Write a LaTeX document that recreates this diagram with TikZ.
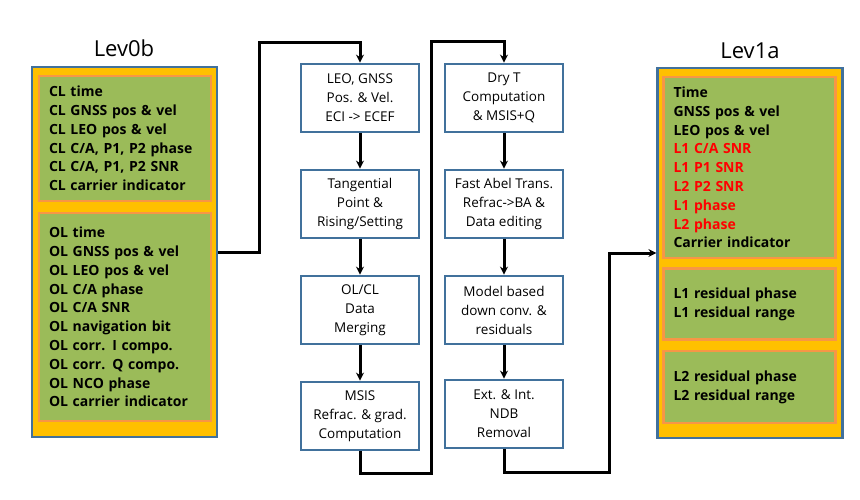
\documentclass[tikz,border=0pt]{standalone}
\usepackage{fontspec}
\setmainfont{Open Sans}
\usetikzlibrary{arrows.meta}

\definecolor{boxblue}{HTML}{41719C}
\definecolor{outerfill}{HTML}{FFC000}
\definecolor{innerfill}{HTML}{9BBB59}
\definecolor{innerline}{HTML}{F79646}

\tikzset{
	outer/.style={draw=boxblue, line width=2.2pt, fill=outerfill, minimum width=185pt, minimum height=370pt},
	inner/.style={draw=innerline, line width=2.5pt, fill=innerfill, minimum width=172pt, text width=152pt, inner xsep=10pt, align=left, font=\fontsize{14}{18.8}\selectfont\bfseries},
	stepbox/.style={draw=boxblue, line width=2.8pt, fill=white, minimum width=118pt, minimum height=68pt, align=center, font=\fontsize{13.5}{19}\selectfont},
	title/.style={font=\fontsize{22}{26}\selectfont},
	arr/.style={line width=3pt, -{Stealth[length=8pt,width=8pt]}},
}

\begin{document}
\begin{tikzpicture}[x=1pt, y=-1pt]
		\useasboundingbox (0, 0) rectangle (860, 499);

		% Lev0b
		\node [title] (lev0b title) at (124, 48) {Lev0b};
		\node [outer] (lev0b) at (124.5, 252) {};
		\node [inner, minimum height=125pt] (cl) at (125, 138.5) {CL time\\CL GNSS pos \& vel\\CL LEO pos \& vel\\CL C/A, P1, P2 phase\\CL C/A, P1, P2 SNR\\CL carrier indicator};
		\node [inner, minimum height=208pt] (ol) at (125, 317) {OL time\\OL GNSS pos \& vel\\OL LEO pos \& vel\\OL C/A phase\\OL C/A SNR\\OL navigation bit\\OL corr. I compo.\\OL corr. Q compo.\\OL NCO phase\\OL carrier indicator};

		% processing steps
		\foreach \n/\y/\t in {m1/98/{LEO, GNSS\\Pos. \& Vel.\\ECI -> ECEF}, m2/204/{Tangential\\Point \&\\Rising/Setting}, m3/310/{OL/CL\\Data\\Merging}, m4/416/{MSIS\\Refrac. \& grad.\\Computation}} {
			\node [stepbox] (\n) at (360, \y) {\t};
		}
		\foreach \n/\y/\t in {n1/98/{Dry T\\Computation\\\& MSIS+Q}, n2/204/{Fast Abel Trans.\\Refrac->BA \&\\Data editing}, n3/310/{Model based\\down conv. \&\\residuals}, n4/414/{Ext. \& Int.\\NDB\\Removal}} {
			\node [stepbox] (\n) at (504, \y) {\t};
		}

		% Lev1a
		\node [title] (lev1a title) at (750, 51) {Lev1a};
		\node [outer] (lev1a) at (750, 253) {};
		\node [inner, minimum height=181pt] (l0) at (749.5, 167.5) {Time\\GNSS pos \& vel\\LEO pos \& vel\\\textcolor{red}{L1 C/A SNR}\\\textcolor{red}{L1 P1 SNR}\\\textcolor{red}{L2 P2 SNR}\\\textcolor{red}{L1 phase}\\\textcolor{red}{L2 phase}\\Carrier indicator};
		\node [inner, minimum height=71pt] (l1) at (749.5, 304) {L1 residual phase\\L1 residual range};
		\node [inner, minimum height=72pt] (l2) at (749.5, 387) {L2 residual phase\\L2 residual range};

		% connectors
		\coordinate (t1) at (259, 42);
		\coordinate (b1) at (431, 473);
		\coordinate (t2) at (431, 41);
		\coordinate (b2) at (609, 472);
		\coordinate (t3) at (609, 253);

		\draw [arr] (lev0b.east) -| (t1) -| (m1.north);
		\draw [arr] (m1) -- (m2);
		\draw [arr] (m2) -- (m3);
		\draw [arr] (m3) -- (m4);
		\draw [arr] (m4.south) |- (b1) -- (t2) -| (n1.north);
		\draw [arr] (n1) -- (n2);
		\draw [arr] (n2) -- (n3);
		\draw [arr] (n3) -- (n4);
		\draw [arr] (n4.south) |- (b2) -- (t3) -- (lev1a.west);
	\end{tikzpicture}
\end{document}
